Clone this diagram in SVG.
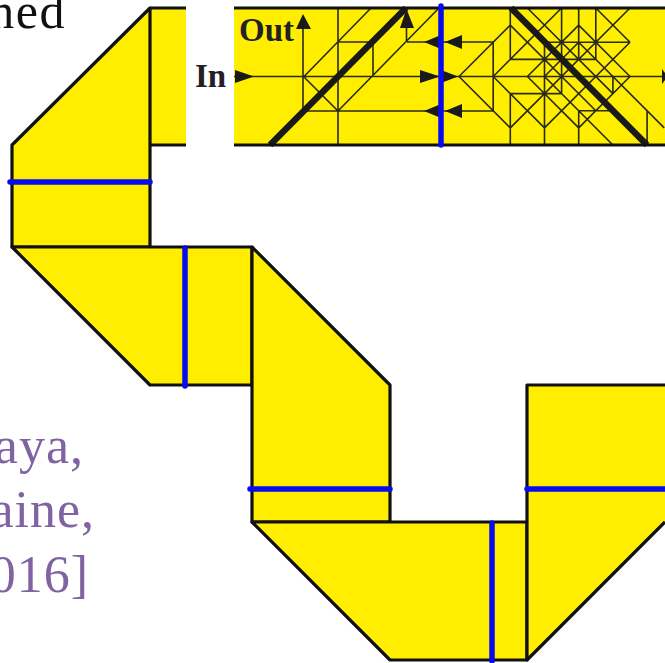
<svg xmlns="http://www.w3.org/2000/svg" width="665" height="663" viewBox="0 0 665 663">
<style>
.f{fill:#ffee00;stroke:none}
.o{fill:none;stroke:#111;stroke-width:3.2;stroke-linejoin:round}
.t{fill:none;stroke:#2a2a1a;stroke-width:1.6}
.g{fill:none;stroke:#2a2a1a;stroke-width:.095}
.k{fill:none;stroke:#1a1a1a;stroke-width:6.5}
.b{fill:none;stroke:#0a0af0;stroke-width:5.5;stroke-linecap:round}
.h{fill:#1a1a1a;stroke:none}
.c{font-family:"Liberation Serif","DejaVu Serif",serif;font-size:52px;text-anchor:end;letter-spacing:1px}
.l{font-family:"Liberation Serif",serif;font-size:33px;font-weight:bold;fill:#222}
</style>
<rect width="665" height="663" fill="#fff"/>
<g id="captions">
<text class="c" x="66" y="28" fill="#111" style="font-size:50px;letter-spacing:1.500px">ned</text>
<text class="c" x="84" y="463" fill="#8064a2">aya,</text>
<text class="c" x="95" y="527" fill="#8064a2">aine,</text>
<text class="c" x="89" y="592" fill="#8064a2">016]</text>
</g>
<g id="panel-top-left">
<rect class="f" x="150" y="8" width="36" height="137"/>
<path class="o" d="M150 8H186M150 145H186"/>
</g>
<g id="panel-diagonal-1">
<path class="f" d="M150 8L12 145V247H150Z"/>
<path class="o" d="M150 8L12 145V247H150Z"/>
</g>
<g id="panel-2">
<path class="f" d="M12 247L150 385H252V247Z"/>
<path class="o" d="M12 247L150 385H252V247Z"/>
</g>
<g id="panel-3">
<path class="f" d="M252 247L390 385V522H252Z"/>
<path class="o" d="M252 247L390 385V522H252Z"/>
</g>
<g id="panel-4">
<path class="f" d="M252 522L390 660H527V522Z"/>
<path class="o" d="M252 522L390 660H527V522Z"/>
</g>
<g id="panel-5">
<path class="f" d="M527 385H665V522L527 660Z"/>
<path class="o" d="M665 385H527V660L665 522"/>
</g>
<g id="crease-strip">
<rect class="f" x="234" y="8" width="431" height="137"/>
<path class="t" d="M303 76V20M303 76V111M338 8V145M234 76.500H665M304 76.500L371 8M338 42H373M407 42H493M338 111L439 8M373 42V76.500M406.500 42V24M303.500 76.500L338 111M303 111H493"/>
<g transform="translate(459 8) scale(17.100 17.125)">
<path class="g" d="M0 4L3 1M2 4L6 0M4 4L7 1M3 7L10 0M5 7L10 2M7 7L10 4M5 4L7 2M0 4L3 7M2 4L5 7M4 4L7 7M3 1L8 6M4 0L9 5M5 4L9 8M8 0L10 2M7 1L10 4M7 2L12 7M2 2V6M3 0V3M3 5V8M5 2V8M6 0V5M7 0V3M7 6V8M8 0V3M9 4V5M11 6V8M5 2H10M3 3H8M3 5H6M7 6H9"/>
</g>
<path class="k" d="M270 145L406 8M511 8L647 145"/>
<path class="o" d="M234 8H665M234 145H665"/>
<path class="h" d="M235 70V83L254 76.500ZM303 14L296 29H311ZM406.500 9L400 28H414ZM440 76.500L420 70V83ZM424 42L441 35V49ZM424 111L441 104V118ZM445 42L462 35V49ZM445 111L462 104V118ZM458 76.500L441 70V83ZM662 69V84L665 80V73Z"/>
<text class="l" x="239" y="41">Out</text>
<text class="l" x="195" y="87">In</text>
</g>
<g id="connectors">
<path class="b" d="M441 6V145M10 182H150M185 248V386M250 489H390M492 523V661M527 489H665"/>
</g>
</svg>
